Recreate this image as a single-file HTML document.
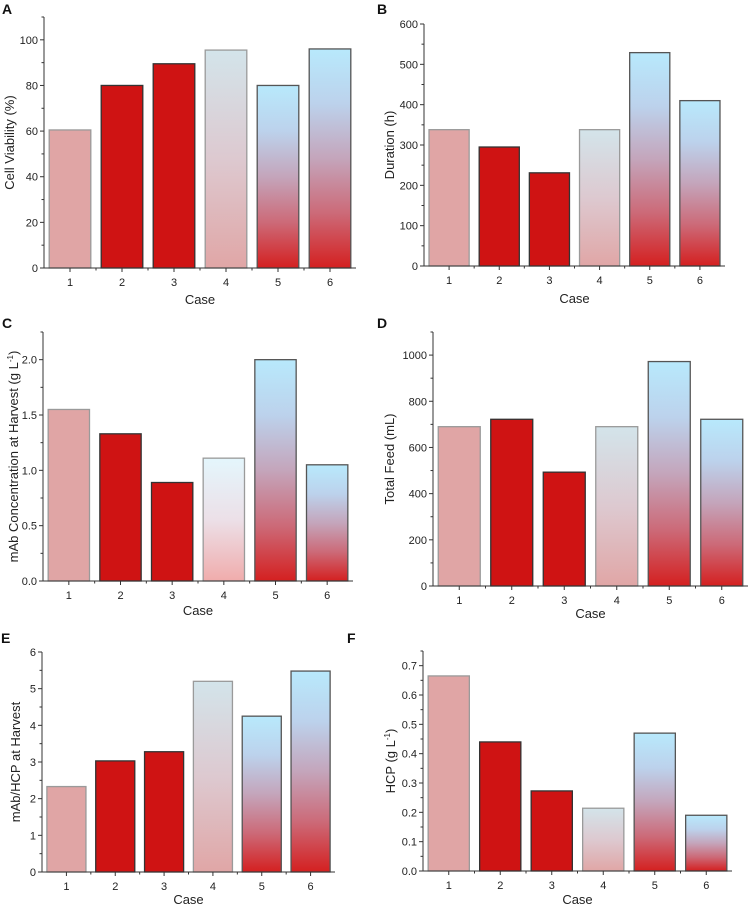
<!DOCTYPE html>
<html><head><meta charset="utf-8">
<style>
html,body{margin:0;padding:0;background:#fff;}
svg{display:block;font-family:"Liberation Sans",Arial,sans-serif;}
</style></head>
<body>
<svg id="fig" width="750" height="905" viewBox="0 0 750 905" xmlns="http://www.w3.org/2000/svg">
<defs>
<linearGradient id="g4" x1="0" y1="0" x2="0" y2="1"><stop offset="0" stop-color="#d3e4ea"/><stop offset="0.5" stop-color="#ddc9d0"/><stop offset="1" stop-color="#e0a6a6"/></linearGradient>
<linearGradient id="g4c" x1="0" y1="0" x2="0" y2="1"><stop offset="0" stop-color="#e4f6fc"/><stop offset="0.5" stop-color="#ece0e8"/><stop offset="1" stop-color="#f0acac"/></linearGradient>
<linearGradient id="g5" x1="0" y1="0" x2="0" y2="1"><stop offset="0" stop-color="#b8e9fc"/><stop offset="0.25" stop-color="#bcd2ec"/><stop offset="0.5" stop-color="#c4a5bb"/><stop offset="0.75" stop-color="#cc6a78"/><stop offset="1" stop-color="#d42020"/></linearGradient>
</defs>
</svg>
<script>
const caseLabels = ["1","2","3","4","5","6"];
const valsA = [60.5, 80, 89.5, 95.5, 80, 96];
const valsB = [338, 295, 231, 338, 529, 410];
const valsC = [1.55, 1.33, 0.89, 1.11, 2.0, 1.05];
const valsD = [690, 722, 493, 690, 972, 722];
const valsE = [2.33, 3.03, 3.28, 5.2, 4.25, 5.48];
const valsF = [0.665, 0.44, 0.273, 0.214, 0.47, 0.19];
const ticksA = [0,20,40,60,80,100];
const ticksB = [0,100,200,300,400,500,600];
const ticksC = [0,0.5,1.0,1.5,2.0];
const ticksD = [0,200,400,600,800,1000];
const ticksE = [0,1,2,3,4,5,6];
const ticksF = [0,0.1,0.2,0.3,0.4,0.5,0.6,0.7];

const NS="http://www.w3.org/2000/svg";
const svg=document.getElementById('fig');
function mk(tag,attrs,parent){const e=document.createElementNS(NS,tag);for(const k in attrs)e.setAttribute(k,attrs[k]);(parent||svg).appendChild(e);return e;}

function panel(o){
  const g=mk('g',{});
  
  
  const y=v=>o.y0-(v-0)/(o.ymax)*(o.y0-o.ytop);
  const band=(o.x1-o.x0)/6;
  const bw=band*0.8;
  const fills=['#e0a5a5','#cf1313','#cf1313',o.g4||'url(#g4)','url(#g5)','url(#g5)'];
  const strokes=['#9a9a9a','#333','#333','#9a9a9a','#555','#555'];
  o.vals.forEach((v,i)=>{
    const cx=o.x0+band*(i+0.5);
    const r=mk('rect',{x:cx-bw/2,y:y(v),width:bw,height:o.y0-y(v),fill:fills[i],stroke:strokes[i],'stroke-width':1.3},g);
    
    
    mk('line',{x1:cx,x2:cx,y1:o.y0,y2:o.y0+4,stroke:'#333'},g);
    if(i>0) mk('line',{x1:o.x0+band*i,x2:o.x0+band*i,y1:o.y0,y2:o.y0+2.5,stroke:'#333'},g);
    const t=mk('text',{x:cx,y:o.y0+18,'font-size':11,'text-anchor':'middle',fill:'#222'},g);
    t.textContent=caseLabels[i];
    
    
  });
  mk('line',{x1:o.x0,x2:o.x0,y1:o.ytop,y2:o.y0,stroke:'#333','stroke-width':1},g);
  mk('line',{x1:o.x0,x2:o.x1,y1:o.y0,y2:o.y0,stroke:'#333','stroke-width':1},g);
  const step=o.ticks[1]-o.ticks[0];
  o.ticks.forEach((tv,k)=>{
    const ty=y(tv);
    mk('line',{x1:o.x0-4,x2:o.x0,y1:ty,y2:ty,stroke:'#333'},g);
    const my=y(tv+step/2);
    if(my>=o.ytop-0.5) mk('line',{x1:o.x0-2.5,x2:o.x0,y1:my,y2:my,stroke:'#333'},g);
    const t=mk('text',{x:o.x0-6,y:ty+4,'font-size':11,'text-anchor':'end',fill:'#222'},g);
    t.textContent=o.fmt?o.fmt(tv):String(tv);
    
    
  });
  const xt=mk('text',{x:(o.x0+o.x1)/2,y:o.xty,'font-size':13,'text-anchor':'middle',fill:'#222'},g);
  xt.textContent='Case';
  
  
  const yt=mk('text',{x:0,y:0,'font-size':13,'text-anchor':'middle',fill:'#222',transform:`translate(${o.ytx},${(o.ytop+o.y0)/2}) rotate(-90)`},g);
  
  
  yt.textContent=o.ytitle;
  if(o.sup){const s=mk('tspan',{'font-size':8,dy:-5},yt);s.textContent='-1';const s2=mk('tspan',{dy:5},yt);s2.textContent=')';}
  const pl=mk('text',{x:o.lx,y:o.ly,'font-size':14,'font-weight':'bold',fill:'#111'},g);
  pl.textContent=o.id;
  
  
}
const f1=v=>v.toFixed(1);
panel({id:'A',vals:valsA,ticks:ticksA,x0:44,x1:356,y0:268,ytop:17,ymax:110,ytitle:'Cell Viability (%)',ytx:14,xty:304,lx:2,ly:14});
panel({id:'B',vals:valsB,ticks:ticksB,x0:424,x1:725,y0:266,ytop:24,ymax:600,ytitle:'Duration (h)',ytx:394,xty:303,lx:377,ly:14});
panel({id:'C',vals:valsC,ticks:ticksC,x0:43,x1:353,y0:581,ytop:332,ymax:2.25,ytitle:'mAb Concentration at Harvest (g L',sup:true,ytx:18,xty:615,lx:2,ly:328,fmt:f1,g4:'url(#g4c)'});
panel({id:'D',vals:valsD,ticks:ticksD,x0:433,x1:748,y0:586,ytop:332,ymax:1100,ytitle:'Total Feed (mL)',ytx:394,xty:618,lx:377,ly:328});
panel({id:'E',vals:valsE,ticks:ticksE,x0:42,x1:335,y0:872,ytop:652,ymax:6,ytitle:'mAb/HCP at Harvest',ytx:20,xty:904,lx:1,ly:643});
panel({id:'F',vals:valsF,ticks:ticksF,x0:423,x1:732,y0:871,ytop:651,ymax:0.75,ytitle:'HCP (g L',sup:true,ytx:395,xty:904,lx:347,ly:643,fmt:f1});
</script>
</body></html>
